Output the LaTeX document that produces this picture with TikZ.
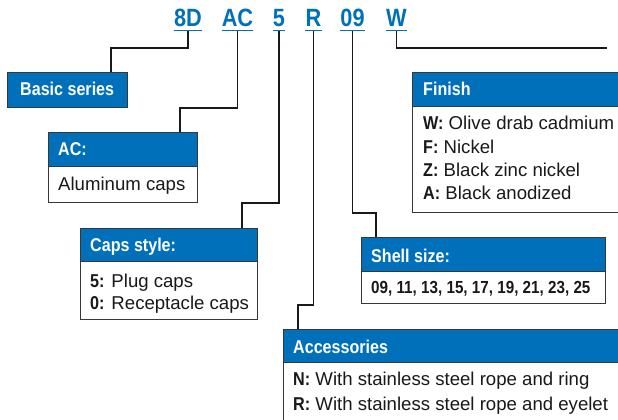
\documentclass[tikz,border=0pt]{standalone}
\usepackage{fontspec}
\setmainfont{Liberation Sans}[BoldFeatures={FakeStretch=0.87}]
\definecolor{hblue}{RGB}{0,112,186}
\definecolor{boxline}{RGB}{55,55,55}
\definecolor{ink}{RGB}{25,25,25}
\begin{document}
\begin{tikzpicture}[x=1pt,y=-1pt,
  conn/.style={draw=ink, line width=1.2pt},
  hdr/.style={draw=boxline, fill=hblue, line width=1.1pt, inner sep=0pt, anchor=north west},
  bdy/.style={draw=boxline, fill=white, line width=1.1pt, inner sep=0pt, anchor=north west},
  code/.style={font=\fontsize{25}{28}\selectfont\bfseries, text=hblue, inner sep=0pt, anchor=base},
  htxt/.style={font=\fontsize{18.5}{22}\selectfont\bfseries, text=white, inner sep=0pt, anchor=base west},
  btxt/.style={font=\fontsize{18.6}{22}\selectfont, text=ink, inner sep=0pt, anchor=base west},
  uline/.style={draw=hblue, line width=1.5pt}]
\useasboundingbox (0,0) rectangle (618,420);
\clip (0,0) rectangle (618,420);

% code letters
\node[code] (c8D) at (188,27) {8D};
\node[code] (cAC) at (237.5,27) {AC};
\node[code] (c5) at (279,27) {5};
\node[code] (cR) at (313.5,27) {R};
\node[code] (c09) at (352.5,27) {09};
\node[code] (cW) at (396.5,27) {W};
\foreach \n in {c8D,cAC,c5,cR,c09,cW}
  \draw[uline] ([yshift=-3.5pt]\n.base west) -- ([yshift=-3.5pt]\n.base east);

% boxes
\node[hdr, minimum width=120pt, minimum height=35pt] (basic) at (7,72) {};
\node[hdr, minimum width=149pt, minimum height=34pt] (acH) at (48,132) {};
\node[bdy, minimum width=149pt, minimum height=36pt] (acB) at (48,166) {};
\node[hdr, minimum width=177pt, minimum height=33pt] (capH) at (80,228) {};
\node[bdy, minimum width=177pt, minimum height=58pt] (capB) at (80,261) {};
\node[hdr, minimum width=228pt, minimum height=34pt] (finH) at (412,72) {};
\node[bdy, minimum width=228pt, minimum height=106pt] (finB) at (412,106) {};
\node[hdr, minimum width=244pt, minimum height=34pt] (shH) at (361,237) {};
\node[bdy, minimum width=244pt, minimum height=32pt] (shB) at (361,271) {};
\node[hdr, minimum width=357pt, minimum height=33pt] (acsH) at (283,329) {};
\node[bdy, minimum width=357pt, minimum height=78pt] (acsB) at (283,362) {};

% texts
\node[htxt] (tBasic) at (20,95) {Basic series};
\node[htxt] (tAC) at (58,155) {AC:};
\node[btxt] (tAC1) at (58,190) {Aluminum caps};
\node[htxt] (tCap) at (90,251) {Caps style:};
\node[btxt] (tCap1) at (90,287) {\textbf{5:} Plug caps};
\node[btxt] (tCap2) at (90,309.5) {\textbf{0:} Receptacle caps};
\node[htxt] (tFin) at (423,95) {Finish};
\node[btxt] (tFin1) at (423,129.5) {\textbf{W:} Olive drab cadmium};
\node[btxt] (tFin2) at (423,153) {\textbf{F:} Nickel};
\node[btxt] (tFin3) at (423,176.5) {\textbf{Z:} Black zinc nickel};
\node[btxt] (tFin4) at (423,199.5) {\textbf{A:} Black anodized};
\node[htxt] (tSh) at (371,262) {Shell size:};
\node[btxt, font=\fontsize{17.5}{21}\selectfont] (tSh1) at (371,293) {\textbf{09, 11, 13, 15, 17, 19, 21, 23, 25}};
\node[htxt] (tAcs) at (293,353) {Accessories};
\node[btxt] (tAcs1) at (293,385.5) {\textbf{N:} With stainless steel rope and ring};
\node[btxt] (tAcs2) at (293,410) {\textbf{R:} With stainless steel rope and eyelet};

% connectors
\coordinate (wend) at (607,48);
\draw[conn] ([yshift=-4pt]c8D.base) -- ++(0,17) -| ([xshift=104pt]basic.north west);
\draw[conn] ([yshift=-4pt]cAC.base) -- ++(0,77) -| ([xshift=132pt]acH.north west);
\draw[conn] ([yshift=-4pt]c5.base) -- ++(0,172) -| ([xshift=162pt]capH.north west);
\draw[conn] ([yshift=-4pt]cR.base) -- ++(0,274) -| ([xshift=15pt]acsH.north west);
\draw[conn] ([yshift=-4pt]c09.base) -- ++(0,182) -| ([xshift=15pt]shH.north west);
\draw[conn] ([yshift=-4pt]cW.base) -- ++(0,17) -- (wend);
\end{tikzpicture}
\end{document}
